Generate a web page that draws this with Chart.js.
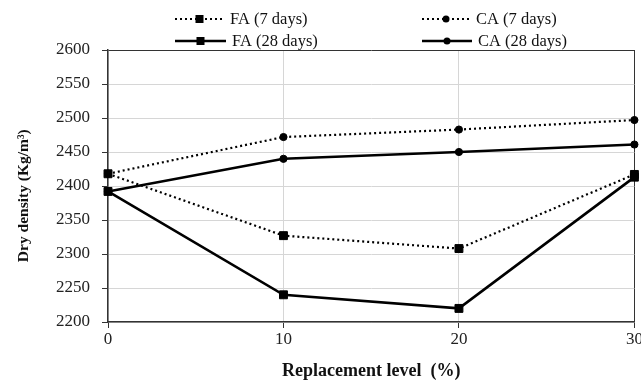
<!DOCTYPE html>
<html lang="en">
  <head>
    <meta charset="UTF-8" />
    <title>Dry density vs replacement level</title>
    <script src="https://cdn.jsdelivr.net/npm/chart.js@4/dist/chart.umd.min.js"></script>
    <style>
      html, body {
        margin: 0;
        padding: 0;
        background: #fff;
      }
      #wrap {
        width: 641px;
        height: 383px;
        position: relative;
      }
    </style>
  </head>
  <body>
    <div id="wrap"><canvas id="chart"></canvas></div>
    <script>
      // replacement level (%)
      const levels = [0, 10, 20, 30]
      const yTicks = [2200, 2600, 50] // min, max, step

      // dry density (kg/m3)
      const fa7 = [2418, 2327, 2308, 2417]
      const ca7 = [2418, 2472, 2483, 2497]
      const fa28 = [2392, 2240, 2220, 2413]
      const ca28 = [2392, 2440, 2450, 2461]

      const serif = "'Liberation Serif', 'Times New Roman', serif"
      const axisColor = '#333'
      const gridColor = '#d6d6d6'

      const pts = arr => arr.map((v, i) => ({ x: levels[i], y: v }))

      function series(label, values, dotted, shape) {
        return {
          label: label,
          data: pts(values),
          borderColor: '#000',
          backgroundColor: '#000',
          borderWidth: dotted ? 2.2 : 2.6,
          borderDash: dotted ? [2, 3] : [],
          pointStyle: shape,
          pointRadius: shape === 'rect' ? 5.6 : 3.6,
          pointBorderWidth: 1,
          pointBackgroundColor: '#000',
          pointBorderColor: '#000',
          tension: 0,
          clip: false
        }
      }

      // legend drawn on the canvas: two columns, two rows
      const legendSpots = [
        { x0: 175, x1: 224, y: 19 },
        { x0: 422, x1: 470, y: 19 },
        { x0: 175, x1: 226, y: 41 },
        { x0: 422, x1: 472, y: 41 }
      ]

      const legendPlugin = {
        id: 'twoColLegend',
        afterDraw(chart) {
          const ctx = chart.ctx
          ctx.save()
          chart.data.datasets.forEach((ds, i) => {
            const s = legendSpots[i]
            ctx.strokeStyle = '#000'
            ctx.lineWidth = ds.borderWidth
            ctx.setLineDash(ds.borderDash)
            ctx.beginPath()
            ctx.moveTo(s.x0, s.y)
            ctx.lineTo(s.x1, s.y)
            ctx.stroke()
            ctx.setLineDash([])
            const mx = (s.x0 + s.x1) / 2
            ctx.fillStyle = '#000'
            if (ds.pointStyle === 'rect') {
              ctx.fillRect(mx - 4, s.y - 4, 8, 8)
            } else {
              ctx.beginPath()
              ctx.arc(mx, s.y, 3.5, 0, Math.PI * 2)
              ctx.fill()
            }
            ctx.font = '16.5px ' + serif
            ctx.textBaseline = 'middle'
            ctx.textAlign = 'left'
            ctx.fillStyle = '#111'
            ctx.fillText(ds.label, s.x1 + 6, s.y + 1)
          })
          ctx.restore()
        }
      }

      new Chart(document.getElementById('chart'), {
        type: 'line',
        data: {
          datasets: [
            series('FA (7 days)', fa7, true, 'rect'),
            series('CA (7 days)', ca7, true, 'circle'),
            series('FA (28 days)', fa28, false, 'rect'),
            series('CA (28 days)', ca28, false, 'circle')
          ]
        },
        options: {
          responsive: true,
          maintainAspectRatio: false,
          animation: false,
          layout: { padding: { top: 50, right: 4, left: 0, bottom: 0 } },
          plugins: {
            legend: { display: false },
            tooltip: { enabled: false }
          },
          scales: {
            x: {
              type: 'linear',
              min: levels[0],
              max: levels[levels.length - 1],
              afterFit: s => {
                s.height = 61
                s.paddingLeft = 0
                s.paddingRight = 0
              },
              ticks: {
                stepSize: 10,
                padding: 1,
                color: '#222',
                callback: v => String(v),
                font: { family: serif, size: 17 }
              },
              grid: {
                color: c => (c.tick && c.tick.value === 30 ? axisColor : gridColor),
                tickColor: axisColor,
                tickLength: 6,
                lineWidth: 1
              },
              border: { color: axisColor, width: 1.5 },
              title: {
                display: true,
                text: 'Replacement level  (%)',
                color: '#111',
                padding: { top: 0, bottom: 1 },
                font: { family: serif, size: 18, weight: 'bold' }
              }
            },
            y: {
              min: yTicks[0],
              max: yTicks[1],
              afterFit: s => {
                s.width = 108
              },
              ticks: {
                stepSize: yTicks[2],
                padding: 12,
                color: '#222',
                callback: v => String(v),
                font: { family: serif, size: 17 }
              },
              grid: {
                color: c => (c.tick && c.tick.value === 2600 ? axisColor : gridColor),
                tickColor: axisColor,
                tickLength: 6,
                lineWidth: 1
              },
              border: { color: axisColor, width: 1.5 },
              title: {
                display: true,
                // trailing spaces nudge the rotated title a little lower, as in the figure
                text: 'Dry density (Kg/m³)     ',
                color: '#111',
                padding: { top: 15, bottom: 0 },
                font: { family: serif, size: 15.5, weight: 'bold' }
              }
            }
          }
        },
        plugins: [legendPlugin]
      })
    </script>
  </body>
</html>
